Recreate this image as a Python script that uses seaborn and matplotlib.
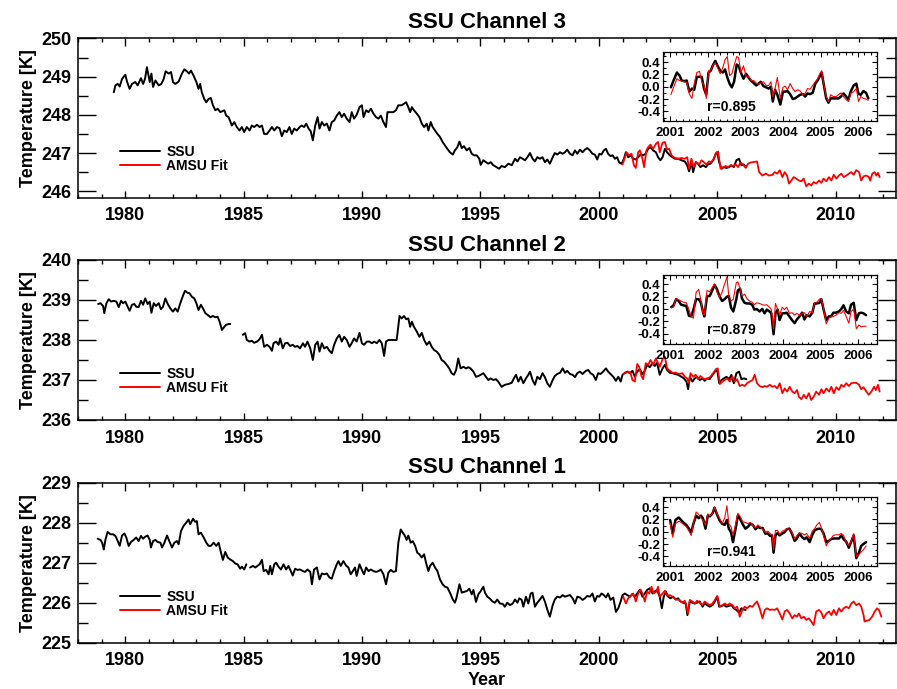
import numpy as np
import pandas as pd
import matplotlib
matplotlib.use("Agg")
import matplotlib.pyplot as plt
import seaborn as sns
from matplotlib.lines import Line2D
from matplotlib.ticker import MultipleLocator, FuncFormatter

# ---------------- data ----------------
# SSU Channel 3
ch3_ssu_year = [
    1979.51, 1979.58, 1979.68, 1979.76, 1979.86, 1980.00, 1980.07, 1980.18, 1980.28, 1980.42,
    1980.52, 1980.66, 1980.75, 1980.83, 1980.91, 1981.03, 1981.10, 1981.17, 1981.27, 1981.41,
    1981.52, 1981.62, 1981.70, 1981.83, 1981.93, 1982.01, 1982.11, 1982.25, 1982.39, 1982.49,
    1982.60, 1982.69, 1982.77, 1982.88, 1983.00, 1983.09, 1983.16, 1983.23, 1983.33, 1983.42,
    1983.52, 1983.61, 1983.70, 1983.80, 1983.90, 1984.01, 1984.18, 1984.26, 1984.36, 1984.50,
    1984.60, 1984.71, 1984.82, 1984.92, 1985.02, 1985.13, 1985.25, 1985.34, 1985.44, 1985.56,
    1985.67, 1985.77, 1985.86, 1985.98, 1986.09, 1986.19, 1986.29, 1986.40, 1986.51, 1986.61,
    1986.71, 1986.82, 1986.93, 1987.03, 1987.13, 1987.24, 1987.36, 1987.45, 1987.55, 1987.64,
    1987.74, 1987.83, 1987.92, 1988.02, 1988.12, 1988.20, 1988.30, 1988.40, 1988.51, 1988.62,
    1988.72, 1988.82, 1988.93, 1989.04, 1989.14, 1989.24, 1989.35, 1989.47, 1989.56, 1989.66,
    1989.77, 1989.89, 1989.99, 1990.06, 1990.17, 1990.27, 1990.37, 1990.48, 1990.59, 1990.69,
    1990.79, 1990.90, 1991.01, 1991.07, 1991.18, 1991.32, 1991.43, 1991.53, 1991.67, 1991.77,
    1991.86, 1991.95, 1992.03, 1992.10, 1992.19, 1992.31, 1992.42, 1992.52, 1992.62, 1992.73,
    1992.80, 1992.90, 1992.98, 1993.08, 1993.18, 1993.29, 1993.40, 1993.50, 1993.60, 1993.71,
    1993.83, 1993.92, 1994.02, 1994.11, 1994.21, 1994.30, 1994.42, 1994.53, 1994.63, 1994.73,
    1994.84, 1994.95, 1995.01, 1995.12, 1995.23, 1995.33, 1995.43, 1995.54, 1995.68, 1995.79,
    1995.89, 1996.03, 1996.18, 1996.32, 1996.46, 1996.56, 1996.67, 1996.78, 1996.88, 1996.98,
    1997.09, 1997.20, 1997.30, 1997.40, 1997.51, 1997.62, 1997.72, 1997.82, 1997.93, 1998.05,
    1998.14, 1998.24, 1998.36, 1998.47, 1998.57, 1998.66, 1998.78, 1998.89, 1998.99, 1999.09,
    1999.20, 1999.31, 1999.41, 1999.51, 1999.62, 1999.73, 1999.83, 1999.93, 2000.02, 2000.11,
    2000.21, 2000.30, 2000.39, 2000.49, 2000.58, 2000.68, 2000.77, 2000.86, 2000.96, 2001.06,
    2001.14, 2001.24, 2001.34, 2001.45, 2001.56, 2001.66, 2001.76, 2001.87, 2001.97, 2002.08,
    2002.18, 2002.29, 2002.41, 2002.50, 2002.60, 2002.69, 2002.79, 2002.88, 2003.00, 2003.11,
    2003.21, 2003.35, 2003.49, 2003.63, 2003.73, 2003.81, 2003.91, 2003.98, 2004.09, 2004.19,
    2004.29, 2004.40, 2004.52, 2004.61, 2004.71, 2004.83, 2004.94, 2005.00, 2005.08, 2005.18,
    2005.28, 2005.39, 2005.50, 2005.60, 2005.70, 2005.81, 2005.92, 2006.02, 2006.12, 2006.22]
ch3_ssu_temp = [
    248.59, 248.77, 248.81, 248.74, 248.94, 249.05, 248.87, 248.68, 248.81, 248.86,
    248.77, 248.96, 248.81, 248.94, 249.25, 248.86, 249.08, 248.73, 248.90, 248.77,
    248.81, 248.94, 249.14, 249.08, 249.12, 248.86, 248.81, 248.87, 249.08, 249.19,
    249.14, 249.08, 249.16, 249.03, 248.86, 248.68, 248.81, 248.59, 248.42, 248.33,
    248.42, 248.44, 248.25, 248.12, 248.16, 248.07, 248.12, 247.98, 247.94, 247.72,
    247.81, 247.68, 247.59, 247.68, 247.55, 247.68, 247.59, 247.72, 247.68, 247.74,
    247.68, 247.72, 247.50, 247.50, 247.59, 247.68, 247.59, 247.68, 247.65, 247.44,
    247.59, 247.55, 247.68, 247.50, 247.64, 247.59, 247.68, 247.72, 247.68, 247.77,
    247.64, 247.57, 247.33, 247.72, 247.94, 247.64, 247.81, 247.72, 247.77, 247.59,
    247.81, 247.85, 247.98, 248.07, 247.94, 248.03, 247.90, 247.81, 248.07, 247.90,
    248.00, 248.20, 248.25, 247.94, 248.12, 248.07, 248.16, 248.03, 247.94, 247.90,
    247.98, 247.81, 247.68, 248.07, 248.07, 248.07, 248.12, 248.25, 248.25, 248.29,
    248.33, 248.20, 248.07, 248.20, 248.12, 248.03, 247.94, 247.77, 247.68, 247.77,
    247.59, 247.81, 247.68, 247.59, 247.50, 247.42, 247.29, 247.20, 247.11, 247.02,
    246.96, 247.07, 247.15, 247.30, 247.13, 247.18, 247.07, 247.13, 246.98, 246.94,
    246.94, 246.85, 246.69, 246.81, 246.76, 246.72, 246.76, 246.68, 246.63, 246.59,
    246.66, 246.63, 246.72, 246.68, 246.85, 246.78, 246.89, 246.85, 246.81, 246.89,
    247.00, 246.85, 246.78, 246.89, 246.85, 246.89, 246.76, 246.83, 246.72, 246.89,
    247.00, 246.96, 247.02, 246.98, 247.02, 247.09, 246.98, 246.94, 247.07, 246.98,
    247.09, 247.02, 247.09, 247.13, 247.07, 246.98, 246.96, 246.83, 246.98, 246.96,
    247.07, 247.11, 246.98, 246.92, 246.94, 246.85, 246.89, 246.75, 246.72, 246.85,
    247.02, 246.89, 246.94, 246.85, 246.83, 246.89, 246.96, 246.94, 246.98, 247.11,
    247.15, 247.07, 247.02, 246.89, 246.81, 246.89, 247.11, 247.02, 246.94, 246.89,
    246.85, 246.85, 246.81, 246.78, 246.68, 246.52, 246.76, 246.50, 246.76, 246.72,
    246.63, 246.68, 246.63, 246.70, 246.72, 246.81, 246.98, 247.02, 246.76, 246.59,
    246.63, 246.61, 246.63, 246.68, 246.63, 246.81, 246.85, 246.68, 246.70, 246.63]
ch3_amsu_year = [
    2001.00, 2001.06, 2001.17, 2001.28, 2001.38, 2001.48, 2001.56, 2001.66, 2001.73, 2001.84,
    2001.91, 2002.01, 2002.08, 2002.18, 2002.29, 2002.41, 2002.50, 2002.57, 2002.69, 2002.79,
    2002.88, 2002.97, 2003.07, 2003.21, 2003.35, 2003.49, 2003.63, 2003.73, 2003.81, 2003.91,
    2004.01, 2004.12, 2004.24, 2004.33, 2004.43, 2004.54, 2004.65, 2004.75, 2004.85, 2004.97,
    2005.04, 2005.14, 2005.25, 2005.36, 2005.46, 2005.56, 2005.67, 2005.78, 2005.88, 2005.98,
    2006.09, 2006.20, 2006.30, 2006.40, 2006.51, 2006.68, 2006.77, 2006.91, 2007.05, 2007.19,
    2007.33, 2007.43, 2007.53, 2007.64, 2007.75, 2007.85, 2007.95, 2008.03, 2008.13, 2008.23,
    2008.34, 2008.45, 2008.55, 2008.65, 2008.76, 2008.87, 2008.97, 2009.07, 2009.18, 2009.30,
    2009.40, 2009.49, 2009.61, 2009.72, 2009.82, 2009.92, 2010.03, 2010.14, 2010.24, 2010.34,
    2010.45, 2010.56, 2010.66, 2010.76, 2010.87, 2010.99, 2011.08, 2011.18, 2011.30, 2011.40,
    2011.46, 2011.55, 2011.65, 2011.72, 2011.79, 2011.86]
ch3_amsu_temp = [
    246.70, 246.81, 247.02, 246.94, 246.98, 246.68, 246.61, 247.02, 247.07, 246.85,
    246.63, 247.07, 247.15, 247.22, 247.11, 247.24, 247.29, 247.02, 247.27, 247.29,
    247.09, 247.11, 246.94, 246.87, 246.85, 246.87, 246.85, 246.89, 246.59, 246.85,
    246.63, 246.76, 246.70, 246.81, 246.76, 246.70, 246.78, 246.76, 246.85, 247.02,
    247.04, 246.59, 246.63, 246.66, 246.63, 246.68, 246.66, 246.70, 246.63, 246.75,
    246.70, 246.61, 246.72, 246.75, 246.76, 246.78, 246.50, 246.41, 246.46, 246.41,
    246.43, 246.50, 246.46, 246.55, 246.37, 246.50, 246.41, 246.20, 246.28, 246.37,
    246.33, 246.28, 246.26, 246.33, 246.13, 246.20, 246.15, 246.24, 246.20, 246.28,
    246.22, 246.33, 246.26, 246.37, 246.28, 246.43, 246.33, 246.41, 246.46, 246.37,
    246.41, 246.46, 246.50, 246.43, 246.55, 246.50, 246.28, 246.39, 246.41, 246.37,
    246.28, 246.46, 246.50, 246.41, 246.48, 246.37]

# SSU Channel 2 (nan = data gap)
ch2_ssu_year = [
    1978.85, 1978.95, 1979.06, 1979.11, 1979.20, 1979.30, 1979.40, 1979.51, 1979.62, 1979.72,
    1979.82, 1979.90, 1980.00, 1980.10, 1980.18, 1980.28, 1980.38, 1980.46, 1980.56, 1980.66,
    1980.75, 1980.84, 1980.94, 1981.03, 1981.10, 1981.20, 1981.29, 1981.41, 1981.50, 1981.59,
    1981.69, 1981.79, 1981.90, 1982.01, 1982.11, 1982.21, 1982.32, 1982.43, 1982.52, 1982.63,
    1982.71, 1982.81, 1982.91, 1983.00, 1983.09, 1983.19, 1983.28, 1983.38, 1983.47, 1983.59,
    1983.70, 1983.80, 1983.90, 1983.98, 1984.08, 1984.18, 1984.26, 1984.36, 1984.43, 1984.70,
    1984.96, 1985.06, 1985.13, 1985.25, 1985.34, 1985.44, 1985.56, 1985.67, 1985.77, 1985.86,
    1985.98, 1986.09, 1986.19, 1986.26, 1986.37, 1986.47, 1986.54, 1986.65, 1986.75, 1986.85,
    1986.96, 1987.07, 1987.17, 1987.27, 1987.38, 1987.50, 1987.59, 1987.69, 1987.81, 1987.92,
    1988.02, 1988.12, 1988.20, 1988.30, 1988.40, 1988.51, 1988.62, 1988.72, 1988.82, 1988.93,
    1989.04, 1989.14, 1989.24, 1989.35, 1989.47, 1989.56, 1989.66, 1989.77, 1989.89, 1989.99,
    1990.08, 1990.20, 1990.31, 1990.41, 1990.51, 1990.62, 1990.73, 1990.83, 1990.93, 1991.01,
    1991.11, 1991.21, 1991.32, 1991.46, 1991.58, 1991.67, 1991.77, 1991.86, 1991.95, 1992.03,
    1992.10, 1992.19, 1992.31, 1992.42, 1992.52, 1992.62, 1992.73, 1992.84, 1992.94, 1993.04,
    1993.15, 1993.26, 1993.36, 1993.46, 1993.57, 1993.68, 1993.78, 1993.88, 1993.97, 1994.06,
    1994.16, 1994.28, 1994.39, 1994.49, 1994.58, 1994.70, 1994.81, 1994.91, 1995.01, 1995.12,
    1995.23, 1995.33, 1995.43, 1995.54, 1995.65, 1995.75, 1995.89, 1996.03, 1996.18, 1996.32,
    1996.41, 1996.50, 1996.60, 1996.70, 1996.81, 1996.92, 1997.02, 1997.09, 1997.20, 1997.30,
    1997.40, 1997.51, 1997.62, 1997.72, 1997.82, 1997.93, 1998.05, 1998.14, 1998.24, 1998.36,
    1998.47, 1998.57, 1998.66, 1998.78, 1998.89, 1998.99, 1999.09, 1999.20, 1999.31, 1999.45,
    1999.55, 1999.65, 1999.76, 1999.87, 1999.97, 2000.07, 2000.18, 2000.30, 2000.39, 2000.49,
    2000.61, 2000.72, 2000.82, 2000.92, 2001.00, 2001.10, 2001.20, 2001.31, 2001.42, 2001.52,
    2001.62, 2001.73, 2001.84, 2001.94, 2002.04, 2002.15, 2002.27, 2002.36, 2002.46, 2002.57,
    2002.69, 2002.79, 2002.88, 2003.00, 2003.11, 2003.21, 2003.35, 2003.49, 2003.59, 2003.70,
    2003.77, 2003.84, 2003.95, 2004.05, 2004.15, 2004.26, 2004.38, 2004.47, 2004.57, 2004.68,
    2004.80, 2004.90, 2005.00, 2005.08, 2005.18, 2005.28, 2005.39, 2005.50, 2005.60, 2005.70,
    2005.81, 2005.92, 2006.02, 2006.12, 2006.23]
ch2_ssu_temp = [
    238.90, 238.92, 238.85, 238.67, 238.92, 239.02, 238.96, 238.98, 238.96, 238.82,
    238.98, 238.92, 238.96, 238.83, 238.73, 238.88, 238.90, 238.83, 238.82, 238.98,
    238.88, 239.04, 238.90, 238.96, 238.68, 238.92, 238.85, 238.92, 238.77, 238.83,
    239.04, 238.90, 238.79, 238.71, 238.79, 238.71, 238.92, 239.10, 239.23, 239.18,
    239.17, 239.08, 239.04, 238.92, 238.75, 238.88, 238.79, 238.67, 238.63, 238.57,
    238.60, 238.57, 238.58, 238.46, 238.25, 238.33, 238.38, 238.40, 238.40, np.nan,
    238.13, 238.17, 238.00, 237.96, 237.98, 237.93, 237.96, 238.02, 238.13, 237.83,
    237.88, 237.83, 237.73, 237.92, 237.96, 237.88, 238.04, 237.79, 237.92, 237.93,
    237.85, 237.88, 237.83, 237.85, 237.79, 237.92, 237.83, 237.96, 237.79, 237.50,
    237.88, 237.96, 237.71, 237.92, 237.79, 237.83, 237.73, 237.67, 237.88, 238.04,
    238.13, 237.96, 238.08, 238.00, 237.83, 237.92, 238.04, 237.96, 238.18, 237.92,
    237.88, 237.96, 237.96, 237.92, 237.96, 237.92, 238.00, 237.92, 237.60, 237.96,
    238.00, 238.00, 238.00, 238.00, 238.60, 238.54, 238.60, 238.52, 238.54, 238.33,
    238.46, 238.33, 238.21, 238.08, 238.18, 238.00, 237.88, 237.96, 237.83, 237.75,
    237.71, 237.63, 237.50, 237.46, 237.38, 237.29, 237.17, 237.13, 237.25, 237.54,
    237.29, 237.33, 237.29, 237.32, 237.29, 237.21, 237.08, 237.10, 237.13, 237.17,
    237.08, 237.00, 237.04, 237.00, 237.02, 236.96, 236.83, 236.88, 236.90, 236.93,
    237.04, 237.13, 236.96, 237.08, 236.92, 237.04, 237.13, 237.21, 237.00, 236.88,
    237.08, 237.02, 237.17, 237.07, 236.92, 236.83, 237.00, 237.10, 237.15, 237.18,
    237.29, 237.18, 237.23, 237.15, 237.13, 237.07, 237.17, 237.21, 237.15, 237.23,
    237.25, 237.17, 237.13, 237.00, 237.17, 237.15, 237.21, 237.29, 237.21, 237.15,
    237.08, 236.98, 237.08, 236.96, 237.13, 237.18, 237.21, 237.17, 237.23, 237.08,
    237.21, 237.27, 237.15, 237.23, 237.38, 237.32, 237.42, 237.35, 237.43, 237.13,
    237.29, 237.38, 237.25, 237.18, 237.17, 237.15, 237.13, 237.08, 237.04, 236.96,
    236.77, 237.08, 236.96, 237.04, 237.08, 237.00, 237.04, 236.98, 237.04, 237.02,
    237.13, 237.21, 237.25, 236.92, 237.00, 237.04, 237.08, 237.02, 237.13, 236.92,
    237.17, 237.21, 237.02, 237.04, 237.02]
ch2_amsu_year = [
    2001.03, 2001.14, 2001.24, 2001.34, 2001.42, 2001.52, 2001.62, 2001.70, 2001.80, 2001.87,
    2001.98, 2002.08, 2002.18, 2002.29, 2002.41, 2002.50, 2002.57, 2002.69, 2002.79, 2002.88,
    2003.00, 2003.11, 2003.25, 2003.39, 2003.53, 2003.63, 2003.73, 2003.81, 2003.87, 2003.98,
    2004.09, 2004.19, 2004.29, 2004.40, 2004.52, 2004.61, 2004.71, 2004.83, 2004.94, 2005.02,
    2005.11, 2005.22, 2005.32, 2005.42, 2005.53, 2005.64, 2005.74, 2005.84, 2005.95, 2006.06,
    2006.16, 2006.26, 2006.37, 2006.49, 2006.58, 2006.68, 2006.79, 2006.91, 2007.01, 2007.10,
    2007.22, 2007.33, 2007.43, 2007.53, 2007.64, 2007.75, 2007.85, 2007.95, 2008.06, 2008.17,
    2008.27, 2008.37, 2008.45, 2008.55, 2008.66, 2008.76, 2008.87, 2008.97, 2009.07, 2009.18,
    2009.30, 2009.40, 2009.49, 2009.61, 2009.72, 2009.82, 2009.92, 2010.03, 2010.14, 2010.24,
    2010.34, 2010.45, 2010.56, 2010.66, 2010.76, 2010.87, 2010.99, 2011.08, 2011.18, 2011.30,
    2011.40, 2011.51, 2011.62, 2011.70, 2011.79, 2011.86]
ch2_amsu_temp = [
    237.15, 237.18, 237.21, 237.17, 237.00, 236.96, 237.40, 237.33, 237.10, 237.02,
    237.42, 237.38, 237.50, 237.38, 237.54, 237.42, 237.33, 237.52, 237.58, 237.29,
    237.23, 237.18, 237.18, 237.15, 237.17, 237.08, 237.04, 236.92, 237.17, 237.08,
    237.13, 237.02, 237.10, 237.04, 237.02, 237.04, 237.08, 237.17, 237.27, 237.29,
    236.90, 236.96, 237.00, 237.04, 236.96, 237.08, 236.96, 237.02, 236.85, 236.88,
    236.85, 236.92, 236.96, 237.00, 237.13, 236.92, 236.85, 236.82, 236.85, 236.83,
    236.88, 236.83, 236.85, 236.79, 236.92, 236.67, 236.79, 236.71, 236.83, 236.71,
    236.67, 236.75, 236.58, 236.52, 236.63, 236.54, 236.67, 236.50, 236.58, 236.71,
    236.63, 236.77, 236.67, 236.79, 236.71, 236.83, 236.67, 236.82, 236.75, 236.88,
    236.83, 236.92, 236.85, 236.92, 236.93, 236.93, 236.88, 236.77, 236.82, 236.71,
    236.63, 236.71, 236.83, 236.75, 236.88, 236.71]

# SSU Channel 1 (nan = data gap)
ch1_ssu_year = [
    1978.83, 1978.95, 1979.02, 1979.09, 1979.16, 1979.25, 1979.37, 1979.48, 1979.58, 1979.68,
    1979.76, 1979.86, 1979.96, 1980.04, 1980.14, 1980.24, 1980.35, 1980.46, 1980.56, 1980.66,
    1980.75, 1980.84, 1980.94, 1981.03, 1981.08, 1981.17, 1981.27, 1981.36, 1981.48, 1981.55,
    1981.65, 1981.76, 1981.87, 1981.97, 1982.07, 1982.18, 1982.25, 1982.35, 1982.46, 1982.57,
    1982.67, 1982.74, 1982.86, 1982.95, 1983.02, 1983.09, 1983.19, 1983.31, 1983.42, 1983.52,
    1983.61, 1983.73, 1983.84, 1983.94, 1984.04, 1984.12, 1984.22, 1984.32, 1984.43, 1984.54,
    1984.64, 1984.74, 1984.85, 1984.92, 1985.02, 1985.11, 1985.19, 1985.27, 1985.39, 1985.49,
    1985.58, 1985.67, 1985.77, 1985.84, 1985.95, 1986.05, 1986.12, 1986.19, 1986.29, 1986.37,
    1986.47, 1986.57, 1986.68, 1986.79, 1986.89, 1986.99, 1987.07, 1987.17, 1987.27, 1987.38,
    1987.50, 1987.59, 1987.69, 1987.81, 1987.88, 1987.97, 1988.09, 1988.20, 1988.30, 1988.40,
    1988.51, 1988.62, 1988.72, 1988.82, 1988.93, 1989.00, 1989.10, 1989.21, 1989.32, 1989.42,
    1989.52, 1989.61, 1989.70, 1989.77, 1989.89, 1989.99, 1990.08, 1990.17, 1990.27, 1990.37,
    1990.48, 1990.59, 1990.69, 1990.79, 1990.90, 1991.01, 1991.11, 1991.21, 1991.32, 1991.43,
    1991.53, 1991.63, 1991.72, 1991.81, 1991.88, 1991.95, 1992.05, 1992.14, 1992.24, 1992.33,
    1992.42, 1992.52, 1992.62, 1992.70, 1992.80, 1992.87, 1992.98, 1993.08, 1993.18, 1993.29,
    1993.40, 1993.50, 1993.60, 1993.71, 1993.83, 1993.92, 1993.99, 1994.11, 1994.21, 1994.30,
    1994.42, 1994.53, 1994.63, 1994.70, 1994.81, 1994.91, 1995.01, 1995.12, 1995.19, 1995.29,
    1995.40, 1995.51, 1995.61, 1995.71, 1995.82, 1995.94, 1996.03, 1996.13, 1996.25, 1996.36,
    1996.46, 1996.56, 1996.64, 1996.74, 1996.81, 1996.92, 1997.02, 1997.12, 1997.20, 1997.30,
    1997.40, 1997.51, 1997.62, 1997.72, 1997.82, 1997.93, 1998.05, 1998.14, 1998.24, 1998.36,
    1998.47, 1998.57, 1998.66, 1998.78, 1998.89, 1998.99, 1999.09, 1999.20, 1999.31, 1999.41,
    1999.51, 1999.62, 1999.73, 1999.83, 1999.93, 2000.02, 2000.11, 2000.21, 2000.30, 2000.39,
    2000.49, 2000.61, 2000.72, 2000.82, 2000.92, 2001.00, 2001.10, 2001.20, 2001.31, 2001.42,
    2001.52, 2001.62, 2001.73, 2001.84, 2001.94, 2002.04, 2002.15, 2002.27, 2002.36, 2002.46,
    2002.57, 2002.66, 2002.74, 2002.83, 2002.93, 2003.02, 2003.14, 2003.25, 2003.35, 2003.45,
    2003.56, 2003.67, 2003.74, 2003.84, 2003.95, 2004.05, 2004.15, 2004.26, 2004.38, 2004.47,
    2004.57, 2004.68, 2004.80, 2004.90, 2005.00, 2005.08, 2005.18, 2005.28, 2005.39, 2005.50,
    2005.60, 2005.70, 2005.81, 2005.92, 2006.02, 2006.12, 2006.20]
ch1_ssu_temp = [
    227.60, 227.57, 227.50, 227.33, 227.58, 227.77, 227.71, 227.71, 227.67, 227.54,
    227.42, 227.68, 227.73, 227.63, 227.42, 227.52, 227.57, 227.63, 227.54, 227.67,
    227.60, 227.65, 227.68, 227.57, 227.38, 227.54, 227.57, 227.52, 227.50, 227.38,
    227.50, 227.68, 227.52, 227.38, 227.50, 227.54, 227.46, 227.79, 227.92, 228.00,
    228.08, 227.96, 228.10, 228.02, 228.04, 227.71, 227.75, 227.63, 227.50, 227.42,
    227.42, 227.50, 227.42, 227.50, 227.25, 227.07, 227.27, 227.13, 227.08, 227.04,
    226.98, 226.96, 226.85, 226.90, 226.83, 226.96, np.nan, 226.88, 226.92, 226.88,
    226.92, 226.96, 227.07, 226.79, 226.82, 226.71, 226.92, 226.71, 226.96, 227.00,
    226.90, 226.83, 226.96, 226.83, 226.92, 226.79, 226.68, 226.85, 226.82, 226.83,
    226.79, 226.77, 226.83, 226.77, 226.46, 226.83, 226.88, 226.58, 226.73, 226.71,
    226.73, 226.63, 226.60, 226.79, 226.96, 227.04, 226.92, 227.04, 226.93, 226.88,
    226.71, 226.79, 226.88, 226.67, 226.96, 226.82, 226.71, 226.88, 226.79, 226.83,
    226.79, 226.77, 226.79, 226.83, 226.71, 226.46, 226.75, 226.82, 226.77, 226.79,
    227.50, 227.83, 227.75, 227.67, 227.57, 227.68, 227.50, 227.54, 227.42, 227.25,
    227.21, 227.13, 227.21, 227.00, 226.79, 226.92, 227.00, 226.88, 226.79, 226.58,
    226.46, 226.40, 226.38, 226.25, 226.08, 226.00, 226.13, 226.46, 226.25, 226.27,
    226.29, 226.35, 226.21, 226.32, 226.02, 226.21, 226.29, 226.40, 226.25, 226.15,
    226.10, 226.03, 226.00, 226.08, 225.98, 225.97, 225.90, 226.00, 225.94, 225.98,
    226.08, 226.00, 226.11, 226.07, 225.90, 226.15, 225.98, 226.23, 226.25, 225.90,
    226.00, 226.08, 226.17, 226.03, 225.83, 225.65, 225.94, 226.08, 226.15, 226.13,
    226.19, 226.15, 226.17, 226.19, 226.11, 225.98, 226.15, 226.13, 226.07, 226.11,
    226.17, 226.15, 226.23, 226.03, 226.17, 226.15, 226.23, 226.19, 226.13, 226.23,
    226.07, 226.13, 225.77, 225.86, 226.03, 226.19, 226.23, 226.19, 226.15, 226.22,
    226.15, 226.23, 226.32, 226.15, 226.23, 226.32, 226.36, 226.23, 226.28, 226.32,
    226.15, 225.86, 226.15, 226.28, 226.15, 226.11, 226.15, 226.08, 226.11, 226.03,
    226.00, 225.98, 225.69, 226.03, 226.00, 225.98, 226.00, 226.03, 225.90, 225.98,
    225.94, 225.90, 225.94, 226.03, 226.15, 225.90, 225.92, 225.94, 225.90, 225.92,
    225.94, 225.86, 225.82, 225.75, 225.86, 225.83, 225.82]
ch1_amsu_year = [
    2001.03, 2001.14, 2001.24, 2001.34, 2001.45, 2001.56, 2001.66, 2001.76, 2001.87, 2001.94,
    2002.04, 2002.13, 2002.22, 2002.32, 2002.43, 2002.50, 2002.57, 2002.69, 2002.79, 2002.88,
    2003.00, 2003.11, 2003.25, 2003.39, 2003.53, 2003.63, 2003.70, 2003.77, 2003.84, 2003.95,
    2004.05, 2004.15, 2004.26, 2004.38, 2004.47, 2004.57, 2004.68, 2004.80, 2004.90, 2005.00,
    2005.11, 2005.22, 2005.32, 2005.42, 2005.53, 2005.64, 2005.74, 2005.84, 2005.95, 2006.06,
    2006.16, 2006.26, 2006.37, 2006.49, 2006.58, 2006.68, 2006.79, 2006.91, 2007.01, 2007.10,
    2007.22, 2007.33, 2007.43, 2007.53, 2007.64, 2007.75, 2007.85, 2007.95, 2008.06, 2008.17,
    2008.27, 2008.37, 2008.45, 2008.55, 2008.66, 2008.76, 2008.87, 2008.97, 2009.07, 2009.18,
    2009.30, 2009.40, 2009.49, 2009.61, 2009.72, 2009.82, 2009.92, 2010.03, 2010.14, 2010.24,
    2010.34, 2010.45, 2010.56, 2010.66, 2010.76, 2010.87, 2010.99, 2011.08, 2011.18, 2011.22,
    2011.32, 2011.43, 2011.54, 2011.65, 2011.75, 2011.83, 2011.93]
ch1_amsu_temp = [
    226.15, 225.98, 226.11, 226.17, 226.23, 226.03, 226.23, 226.33, 226.19, 226.03,
    226.28, 226.23, 226.40, 226.23, 226.28, 226.40, 226.15, 226.23, 226.30, 226.17,
    226.19, 226.15, 226.08, 226.07, 226.00, 226.05, 225.90, 225.73, 226.07, 226.03,
    225.98, 226.05, 226.00, 225.94, 226.03, 225.98, 225.94, 225.98, 226.07, 226.17,
    225.90, 225.94, 225.98, 225.94, 225.98, 225.94, 225.86, 225.90, 225.65, 225.82,
    225.90, 225.86, 225.92, 225.90, 225.97, 226.03, 225.86, 225.61, 225.82, 225.86,
    225.82, 225.83, 225.82, 225.86, 225.73, 225.58, 225.78, 225.82, 225.73, 225.61,
    225.69, 225.65, 225.73, 225.61, 225.65, 225.57, 225.61, 225.53, 225.44, 225.78,
    225.82, 225.75, 225.61, 225.73, 225.78, 225.69, 225.82, 225.69, 225.86, 225.78,
    225.86, 225.90, 225.86, 225.98, 226.03, 225.94, 225.98, 225.90, 225.69, 225.53,
    225.55, 225.57, 225.65, 225.78, 225.86, 225.82, 225.65]

# Inset anomalies 2001-2006
in3_year = [
    2001.02, 2001.09, 2001.18, 2001.25, 2001.31, 2001.37, 2001.44, 2001.51, 2001.58, 2001.64,
    2001.71, 2001.78, 2001.84, 2001.90, 2001.96, 2002.02, 2002.08, 2002.13, 2002.20, 2002.26,
    2002.33, 2002.40, 2002.46, 2002.52, 2002.58, 2002.64, 2002.70, 2002.77, 2002.82, 2002.88,
    2002.95, 2003.02, 2003.08, 2003.15, 2003.22, 2003.29, 2003.35, 2003.41, 2003.48, 2003.55,
    2003.62, 2003.68, 2003.73, 2003.79, 2003.85, 2003.93, 2004.00, 2004.06, 2004.12, 2004.19,
    2004.26, 2004.32, 2004.39, 2004.46, 2004.53, 2004.59, 2004.65, 2004.72, 2004.79, 2004.86,
    2004.92, 2004.99, 2005.03, 2005.08, 2005.15, 2005.21, 2005.27, 2005.34, 2005.41, 2005.48,
    2005.54, 2005.61, 2005.68, 2005.74, 2005.80, 2005.88, 2005.95, 2006.01, 2006.07, 2006.14,
    2006.21, 2006.27]
in3_ssu = [
    -0.01, 0.10, 0.23, 0.18, 0.10, 0.09, 0.10, -0.08, -0.03, -0.05,
    0.16, 0.16, 0.16, -0.03, -0.13, 0.23, 0.26, 0.34, 0.42, 0.34,
    0.26, 0.23, 0.28, 0.15, 0.05, -0.01, 0.08, 0.36, 0.34, 0.23,
    0.13, 0.21, 0.15, 0.10, 0.06, 0.02, 0.05, 0.08, 0.01, -0.01,
    -0.03, 0.00, -0.24, -0.05, -0.13, -0.29, -0.08, -0.08, -0.07, -0.12,
    -0.20, -0.19, -0.16, -0.13, -0.12, -0.16, -0.11, -0.12, -0.10, 0.05,
    0.10, 0.18, 0.23, 0.05, -0.19, -0.26, -0.19, -0.19, -0.19, -0.19,
    -0.16, -0.11, -0.16, -0.21, -0.08, 0.02, 0.05, -0.12, -0.13, -0.07,
    -0.10, -0.19]
in3_amsu = [
    -0.13, -0.01, 0.13, 0.10, 0.09, 0.08, 0.07, -0.12, -0.19, 0.05,
    0.23, 0.25, 0.08, 0.02, -0.19, 0.26, 0.27, 0.34, 0.39, 0.31,
    0.21, 0.31, 0.44, 0.49, 0.18, 0.21, 0.34, 0.49, 0.47, 0.23,
    0.34, 0.16, 0.18, 0.10, 0.10, 0.06, 0.04, 0.06, 0.08, 0.02,
    0.02, 0.08, -0.16, -0.03, 0.15, -0.19, -0.01, 0.01, -0.05, 0.05,
    -0.03, -0.08, -0.05, -0.07, -0.13, -0.11, -0.03, -0.04, 0.02, 0.08,
    0.13, 0.22, 0.26, 0.06, -0.16, -0.24, -0.13, -0.16, -0.16, -0.13,
    -0.10, -0.16, -0.21, -0.24, -0.11, -0.08, -0.03, -0.24, -0.16, -0.19,
    -0.20, -0.22]
in2_year = [
    2001.03, 2001.09, 2001.16, 2001.23, 2001.29, 2001.35, 2001.43, 2001.50, 2001.56, 2001.62,
    2001.69, 2001.76, 2001.82, 2001.87, 2001.91, 2001.98, 2002.05, 2002.12, 2002.18, 2002.24,
    2002.31, 2002.38, 2002.45, 2002.51, 2002.56, 2002.62, 2002.68, 2002.76, 2002.80, 2002.86,
    2002.91, 2002.98, 2003.04, 2003.11, 2003.18, 2003.24, 2003.30, 2003.38, 2003.45, 2003.51,
    2003.57, 2003.64, 2003.69, 2003.75, 2003.80, 2003.86, 2003.91, 2003.98, 2004.04, 2004.10,
    2004.17, 2004.24, 2004.31, 2004.37, 2004.44, 2004.51, 2004.57, 2004.63, 2004.71, 2004.78,
    2004.84, 2004.90, 2004.97, 2005.02, 2005.08, 2005.15, 2005.22, 2005.28, 2005.34, 2005.41,
    2005.49, 2005.55, 2005.61, 2005.68, 2005.75, 2005.81, 2005.88, 2005.95, 2006.02, 2006.08,
    2006.14, 2006.21]
in2_ssu = [
    0.03, 0.06, 0.16, 0.13, 0.07, 0.06, 0.05, -0.11, -0.12, -0.01,
    0.16, 0.16, 0.10, -0.04, -0.12, 0.21, 0.21, 0.30, 0.39, 0.33,
    0.21, 0.13, 0.16, 0.20, 0.21, 0.02, -0.04, 0.16, 0.30, 0.33,
    0.17, 0.10, 0.09, 0.09, 0.07, -0.01, 0.00, -0.04, 0.00, -0.07,
    -0.01, -0.04, -0.07, -0.41, -0.07, -0.01, -0.18, -0.07, -0.07, -0.06,
    -0.12, -0.18, -0.23, -0.17, -0.12, -0.06, -0.17, -0.10, -0.12, -0.06,
    0.09, 0.09, 0.10, 0.16, -0.01, -0.18, -0.12, -0.12, -0.06, -0.06,
    -0.04, 0.00, 0.06, -0.04, -0.07, 0.07, 0.10, -0.18, -0.07, -0.06,
    -0.07, -0.10]
in2_amsu = [
    0.02, 0.03, 0.17, 0.15, 0.13, 0.11, 0.10, -0.01, -0.12, -0.15,
    0.27, 0.32, 0.13, -0.07, -0.10, 0.30, 0.28, 0.35, 0.41, 0.28,
    0.19, 0.27, 0.41, 0.52, 0.21, 0.13, 0.16, 0.43, 0.44, 0.33,
    0.21, 0.24, 0.17, 0.13, 0.11, 0.07, 0.10, 0.09, 0.07, 0.06,
    0.07, 0.03, -0.01, -0.32, 0.09, -0.01, -0.10, 0.03, -0.01, 0.03,
    -0.07, -0.06, -0.10, -0.07, -0.10, -0.07, -0.06, -0.12, -0.04, -0.06,
    0.10, 0.11, 0.16, 0.17, 0.00, -0.24, -0.15, -0.12, -0.12, -0.10,
    -0.06, -0.07, -0.02, -0.12, -0.23, -0.04, 0.00, -0.32, -0.26, -0.29,
    -0.28, -0.28]
in1_year = [
    2001.00, 2001.07, 2001.14, 2001.23, 2001.29, 2001.35, 2001.43, 2001.50, 2001.56, 2001.62,
    2001.69, 2001.76, 2001.82, 2001.87, 2001.94, 2002.00, 2002.06, 2002.13, 2002.18, 2002.24,
    2002.31, 2002.38, 2002.45, 2002.51, 2002.56, 2002.62, 2002.67, 2002.74, 2002.80, 2002.86,
    2002.93, 2003.00, 2003.07, 2003.13, 2003.20, 2003.27, 2003.33, 2003.39, 2003.46, 2003.53,
    2003.60, 2003.66, 2003.71, 2003.75, 2003.80, 2003.86, 2003.91, 2003.98, 2004.04, 2004.10,
    2004.17, 2004.24, 2004.31, 2004.37, 2004.44, 2004.51, 2004.57, 2004.63, 2004.71, 2004.78,
    2004.84, 2004.90, 2004.97, 2005.02, 2005.08, 2005.15, 2005.22, 2005.28, 2005.34, 2005.41,
    2005.49, 2005.55, 2005.61, 2005.68, 2005.75, 2005.81, 2005.88, 2005.95, 2006.02, 2006.08,
    2006.14, 2006.21]
in1_ssu = [
    0.19, -0.03, 0.19, 0.23, 0.19, 0.15, 0.11, 0.05, -0.01, 0.13,
    0.26, 0.22, 0.26, 0.22, 0.05, 0.26, 0.25, 0.30, 0.39, 0.29,
    0.19, 0.13, 0.11, 0.19, 0.05, -0.01, -0.17, 0.05, 0.26, 0.21,
    0.12, 0.05, 0.08, 0.13, 0.11, 0.04, 0.08, 0.06, 0.06, -0.03,
    -0.03, -0.07, -0.06, -0.34, -0.06, -0.02, -0.06, -0.03, -0.01, 0.04,
    0.05, -0.03, -0.15, -0.11, -0.03, -0.09, -0.12, -0.09, -0.17, -0.05,
    0.02, 0.04, 0.05, 0.04, -0.03, -0.17, -0.15, -0.12, -0.11, -0.11,
    -0.11, -0.06, -0.12, -0.16, -0.26, -0.17, -0.06, -0.43, -0.34, -0.23,
    -0.20, -0.17]
in1_amsu = [
    0.13, -0.09, 0.13, 0.17, 0.15, 0.12, 0.08, 0.01, -0.06, 0.13,
    0.32, 0.28, 0.22, 0.19, 0.11, 0.29, 0.26, 0.30, 0.40, 0.30,
    0.22, 0.13, 0.22, 0.42, 0.13, 0.08, -0.06, 0.11, 0.30, 0.25,
    0.16, 0.15, 0.13, 0.15, 0.10, 0.06, 0.11, 0.08, 0.04, -0.01,
    0.01, -0.03, -0.05, -0.29, 0.02, 0.02, -0.05, 0.01, 0.02, 0.05,
    0.04, -0.01, -0.12, -0.06, -0.02, -0.03, -0.05, -0.03, -0.11, 0.01,
    0.05, 0.11, 0.15, 0.06, -0.06, -0.23, -0.15, -0.11, -0.06, -0.05,
    -0.05, -0.03, -0.06, -0.17, -0.23, -0.16, -0.03, -0.40, -0.37, -0.33,
    -0.29, -0.23]

titles = ["SSU Channel 3", "SSU Channel 2", "SSU Channel 1"]
r_labels = ["r=0.895", "r=0.879", "r=0.941"]
legend_labels = ["SSU", "AMSU Fit"]
ylims = [(245.83, 250.02), (236.0, 240.0), (225.0, 229.0)]

# ---------------- style ----------------
sns.set_style("ticks")
plt.rcParams['font.family'] = ['Liberation Sans', 'DejaVu Sans']
plt.rcParams.update({
    'font.weight': 'bold', 'axes.labelweight': 'bold', 'axes.titleweight': 'bold',
    'axes.edgecolor': 'black', 'xtick.color': 'black', 'ytick.color': 'black',
    'text.color': 'black', 'axes.labelcolor': 'black', 'axes.linewidth': 1.1,
})


def frame(years, vals):
    y = np.asarray(years, float)
    v = np.asarray(vals, float)
    assert len(y) == len(v), (len(y), len(v))
    seg = np.cumsum(np.isnan(v))
    m = ~np.isnan(v)
    return pd.DataFrame({'year': y[m], 'val': v[m], 'seg': seg[m]})


panels = [
    (ch3_ssu_year, ch3_ssu_temp, ch3_amsu_year, ch3_amsu_temp, in3_year, in3_ssu, in3_amsu),
    (ch2_ssu_year, ch2_ssu_temp, ch2_amsu_year, ch2_amsu_temp, in2_year, in2_ssu, in2_amsu),
    (ch1_ssu_year, ch1_ssu_temp, ch1_amsu_year, ch1_amsu_temp, in1_year, in1_ssu, in1_amsu),
]

W, H = 897, 689
fig = plt.figure(figsize=(W / 100, H / 100), dpi=100)

ax_left, ax_right = 78, 896
tops = [37.7, 260.0, 482.7]
ph = 160.0
inset_l, inset_r = 663, 877

fmt1 = FuncFormatter(lambda v, p: f"{round(v, 1) + 0.0:.1f}")

for i, (sy, st, ay, at, iy, isu, iam) in enumerate(panels):
    top = tops[i]
    ax = fig.add_axes([ax_left / W, 1 - (top + ph) / H, (ax_right - ax_left) / W, ph / H])
    df_s = frame(sy, st)
    df_a = frame(ay, at)
    sns.lineplot(data=df_s, x='year', y='val', units='seg', estimator=None, sort=False,
                 color='black', lw=1.4, ax=ax, legend=False)
    sns.lineplot(data=df_a, x='year', y='val', units='seg', estimator=None, sort=False,
                 color='#ff0000', lw=1.3, ax=ax, legend=False)
    ax.set_xlim(1978.0, 2012.55)
    ax.set_ylim(*ylims[i])
    ax.xaxis.set_major_locator(MultipleLocator(5))
    ax.xaxis.set_minor_locator(MultipleLocator(1))
    ax.yaxis.set_major_locator(MultipleLocator(1))
    ax.yaxis.set_minor_locator(MultipleLocator(0.5))
    ax.xaxis.set_major_formatter(FuncFormatter(lambda v, p: f"{int(round(v))}"))
    ax.yaxis.set_major_formatter(FuncFormatter(lambda v, p: f"{int(round(v))}"))
    ax.tick_params(axis='both', which='both', direction='in', top=True, right=True,
                   labelsize=13, width=1.0)
    ax.tick_params(axis='x', which='major', length=5.4, pad=7)
    ax.tick_params(axis='x', which='minor', length=2.6)
    ax.tick_params(axis='y', which='major', length=13, pad=5)
    ax.tick_params(axis='y', which='minor', length=7)
    for lab in ax.get_xticklabels() + ax.get_yticklabels():
        lab.set_fontweight('bold')
    ax.set_ylabel("Temperature [K]", fontsize=13, fontweight='bold', labelpad=3)
    if i == 2:
        ax.set_xlabel("Year", fontsize=13, fontweight='bold', labelpad=2)
    else:
        ax.set_xlabel("")
    ax.set_title(titles[i], fontsize=16, fontweight='bold', pad=6.8)

    handles = [Line2D([], [], color='black', lw=1.4), Line2D([], [], color='#ff0000', lw=1.4)]
    ax.legend(handles, legend_labels, loc='upper left', bbox_to_anchor=(0.051, 0.33),
              frameon=False, borderaxespad=0, borderpad=0, handlelength=2.9,
              handletextpad=0.45, labelspacing=0.0,
              prop={'size': 10, 'weight': 'bold'})

    # inset
    itop = top + 14.5
    ih = 69.0
    axi = fig.add_axes([inset_l / W, 1 - (itop + ih) / H, (inset_r - inset_l) / W, ih / H])
    axi.set_facecolor('white')
    dfi = pd.DataFrame({'year': np.asarray(iy, float), 'ssu': np.asarray(isu, float),
                        'amsu': np.asarray(iam, float)})
    assert len(iy) == len(isu) == len(iam)
    sns.lineplot(data=dfi, x='year', y='ssu', color='black', lw=1.8, ax=axi, legend=False)
    sns.lineplot(data=dfi, x='year', y='amsu', color='#ff0000', lw=0.8, ax=axi, legend=False)
    axi.set_xlim(2000.81, 2006.5)
    axi.set_ylim(-0.56, 0.56)
    axi.xaxis.set_major_locator(MultipleLocator(1))
    axi.xaxis.set_minor_locator(MultipleLocator(1 / 6))
    axi.yaxis.set_major_locator(MultipleLocator(0.2))
    axi.yaxis.set_minor_locator(MultipleLocator(0.1))
    axi.xaxis.set_major_formatter(FuncFormatter(lambda v, p: f"{int(round(v))}"))
    axi.yaxis.set_major_formatter(fmt1)
    axi.tick_params(axis='both', which='both', direction='in', top=True, right=True,
                    labelsize=9.5, width=0.8)
    axi.tick_params(axis='both', which='major', length=3.5)
    axi.tick_params(axis='both', which='minor', length=1.8)
    axi.tick_params(axis='x', which='major', pad=4.5)
    axi.tick_params(axis='y', which='major', pad=2)
    for lab in axi.get_xticklabels() + axi.get_yticklabels():
        lab.set_fontweight('bold')
    for s in axi.spines.values():
        s.set_linewidth(0.9)
    axi.set_xlabel("")
    axi.set_ylabel("")
    axi.text(0.205, 0.2, r_labels[i], transform=axi.transAxes, ha='left', va='center',
             fontsize=10, fontweight='bold')

fig.savefig("out.png", dpi=100)
